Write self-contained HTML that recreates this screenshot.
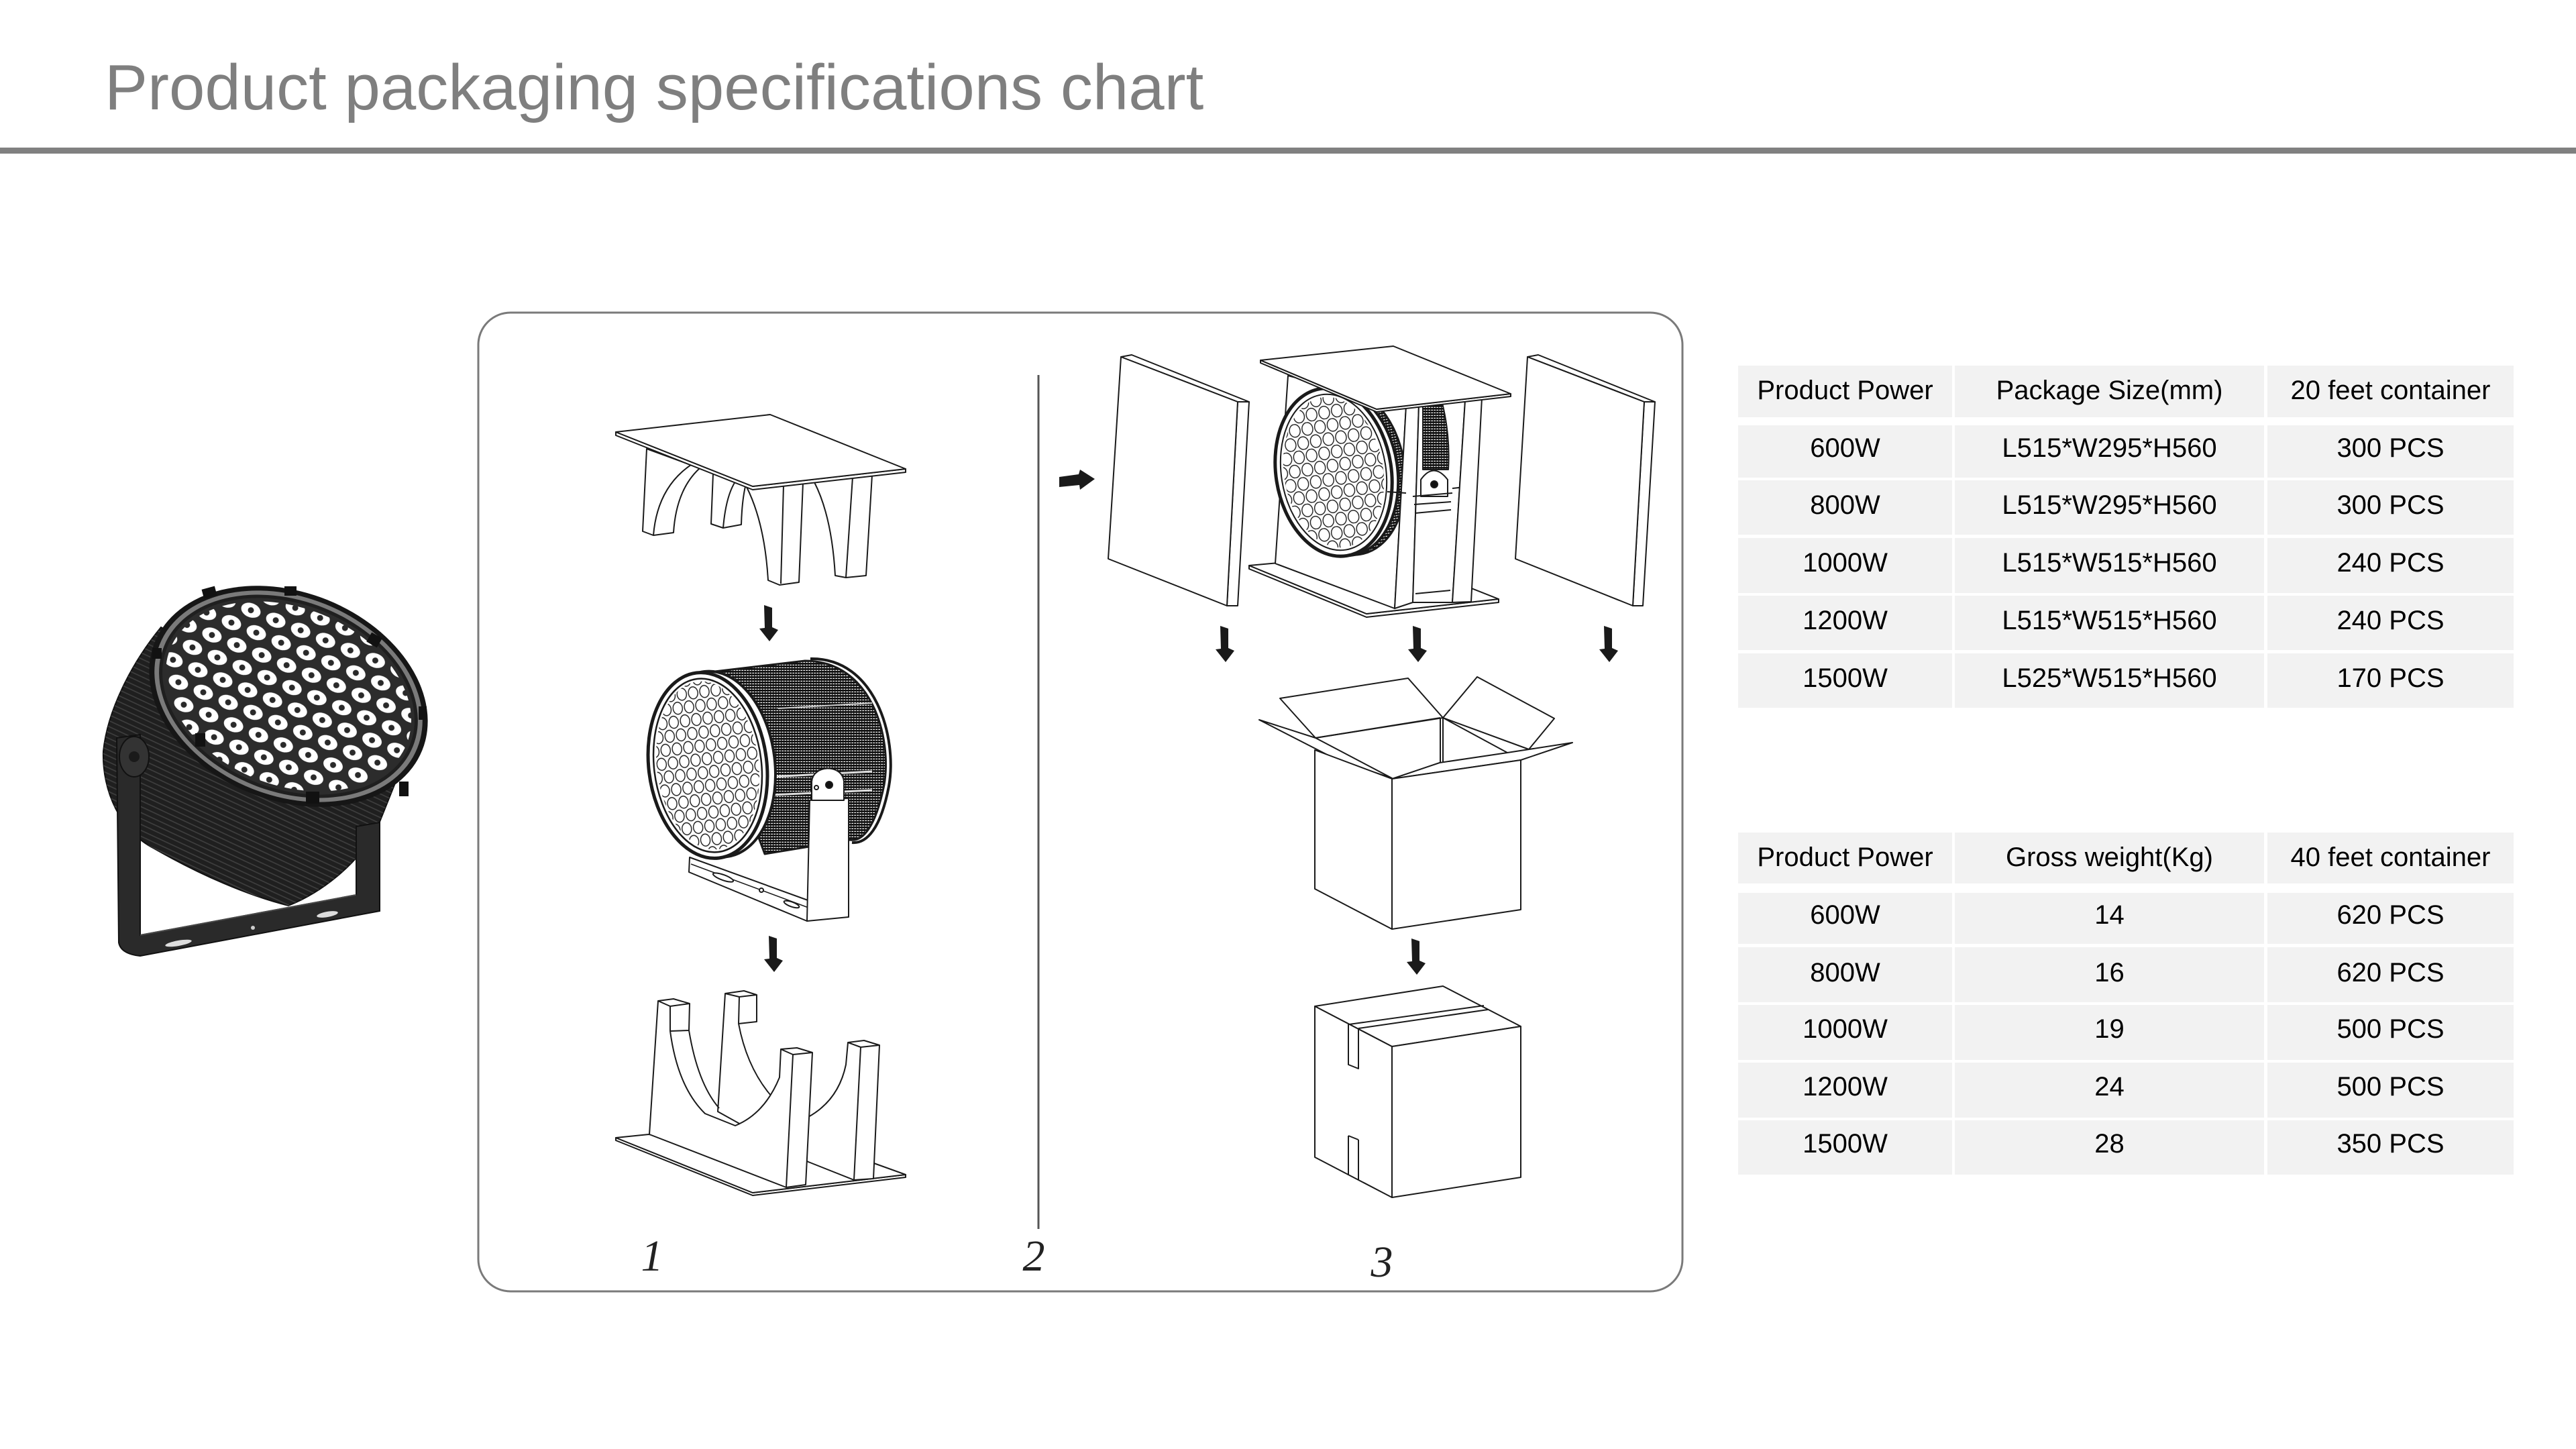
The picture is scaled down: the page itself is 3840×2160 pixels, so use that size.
<!DOCTYPE html>
<html><head><meta charset="utf-8"><title>Product packaging specifications chart</title>
<style>html,body{margin:0;padding:0;background:#fff;overflow:hidden;width:3840px;height:2160px}svg{position:absolute;left:0;top:0}</style>
</head><body>
<svg width="3840" height="2160" viewBox="0 0 3840 2160" xmlns="http://www.w3.org/2000/svg">
<defs>
<pattern id="ledW" patternUnits="userSpaceOnUse" width="40" height="56">
<ellipse cx="20" cy="14" rx="15" ry="10.5" fill="#fff"/><circle cx="20" cy="14" r="4.5" fill="#2a2a2a"/>
<ellipse cx="0" cy="42" rx="15" ry="10.5" fill="#fff"/><circle cx="0" cy="42" r="4.5" fill="#2a2a2a"/>
<ellipse cx="40" cy="42" rx="15" ry="10.5" fill="#fff"/><circle cx="40" cy="42" r="4.5" fill="#2a2a2a"/>
</pattern>
<pattern id="ledO1" patternUnits="userSpaceOnUse" width="17" height="40">
<g fill="none" stroke="#1a1a1a" stroke-width="1.4"><ellipse cx="8.5" cy="10" rx="7" ry="9"/><ellipse cx="0" cy="30" rx="7" ry="9"/><ellipse cx="17" cy="30" rx="7" ry="9"/></g>
</pattern>
<pattern id="ledO2" patternUnits="userSpaceOnUse" width="19" height="40">
<g fill="none" stroke="#1a1a1a" stroke-width="1.4"><ellipse cx="9.5" cy="10" rx="8" ry="9.5"/><ellipse cx="0" cy="30" rx="8" ry="9.5"/><ellipse cx="19" cy="30" rx="8" ry="9.5"/></g>
</pattern>
<pattern id="fins" patternUnits="userSpaceOnUse" width="4" height="4">
<rect width="4" height="4" fill="#fff"/><rect width="4" height="2.8" fill="#111"/><rect width="1.3" height="4" fill="#111"/>
</pattern>
<pattern id="pfin" patternUnits="userSpaceOnUse" width="8" height="8" patternTransform="rotate(25)">
<line x1="0" y1="1" x2="8" y2="1" stroke="#414141" stroke-width="1.5"/>
</pattern>
<polygon id="da" points="7,0 19,4 19,33 28,37 15,54 0,35 8,34" fill="#1a1a1a"/>
</defs>

<rect width="3840" height="2160" fill="#fff"/>
<text x="156" y="163" font-family="Liberation Sans, Arial, sans-serif" font-size="96" fill="#7f7f7f">Product packaging specifications chart</text>
<rect x="0" y="220" width="3840" height="9" fill="#808080"/>

<!-- Table 1 -->
<g fill="#f2f2f2">
<rect x="2591" y="545" width="319" height="77"/><rect x="2914" y="545" width="461" height="77"/><rect x="3380" y="545" width="367" height="77"/>
<rect x="2591" y="634" width="319" height="78"/><rect x="2914" y="634" width="461" height="78"/><rect x="3380" y="634" width="367" height="78"/>
<rect x="2591" y="716" width="319" height="81"/><rect x="2914" y="716" width="461" height="81"/><rect x="3380" y="716" width="367" height="81"/>
<rect x="2591" y="802" width="319" height="82"/><rect x="2914" y="802" width="461" height="82"/><rect x="3380" y="802" width="367" height="82"/>
<rect x="2591" y="888" width="319" height="81"/><rect x="2914" y="888" width="461" height="81"/><rect x="3380" y="888" width="367" height="81"/>
<rect x="2591" y="974" width="319" height="81"/><rect x="2914" y="974" width="461" height="81"/><rect x="3380" y="974" width="367" height="81"/>
</g>
<g font-family="Liberation Sans, Arial, sans-serif" font-size="40" fill="#000" text-anchor="middle">
<text x="2750.5" y="595">Product Power</text><text x="3144.5" y="595">Package Size(mm)</text><text x="3563.5" y="595">20 feet container</text>
<text x="2750.5" y="681">600W</text><text x="3144.5" y="681">L515*W295*H560</text><text x="3563.5" y="681">300 PCS</text>
<text x="2750.5" y="766">800W</text><text x="3144.5" y="766">L515*W295*H560</text><text x="3563.5" y="766">300 PCS</text>
<text x="2750.5" y="852">1000W</text><text x="3144.5" y="852">L515*W515*H560</text><text x="3563.5" y="852">240 PCS</text>
<text x="2750.5" y="938">1200W</text><text x="3144.5" y="938">L515*W515*H560</text><text x="3563.5" y="938">240 PCS</text>
<text x="2750.5" y="1024">1500W</text><text x="3144.5" y="1024">L525*W515*H560</text><text x="3563.5" y="1024">170 PCS</text>
</g>

<!-- Table 2 -->
<g fill="#f2f2f2">
<rect x="2591" y="1241" width="319" height="76"/><rect x="2914" y="1241" width="461" height="76"/><rect x="3380" y="1241" width="367" height="76"/>
<rect x="2591" y="1331" width="319" height="76"/><rect x="2914" y="1331" width="461" height="76"/><rect x="3380" y="1331" width="367" height="76"/>
<rect x="2591" y="1412" width="319" height="82"/><rect x="2914" y="1412" width="461" height="82"/><rect x="3380" y="1412" width="367" height="82"/>
<rect x="2591" y="1498" width="319" height="82"/><rect x="2914" y="1498" width="461" height="82"/><rect x="3380" y="1498" width="367" height="82"/>
<rect x="2591" y="1584" width="319" height="82"/><rect x="2914" y="1584" width="461" height="82"/><rect x="3380" y="1584" width="367" height="82"/>
<rect x="2591" y="1670" width="319" height="81"/><rect x="2914" y="1670" width="461" height="81"/><rect x="3380" y="1670" width="367" height="81"/>
</g>
<g font-family="Liberation Sans, Arial, sans-serif" font-size="40" fill="#000" text-anchor="middle">
<text x="2750.5" y="1291">Product Power</text><text x="3144.5" y="1291">Gross weight(Kg)</text><text x="3563.5" y="1291">40 feet container</text>
<text x="2750.5" y="1377">600W</text><text x="3144.5" y="1377">14</text><text x="3563.5" y="1377">620 PCS</text>
<text x="2750.5" y="1463">800W</text><text x="3144.5" y="1463">16</text><text x="3563.5" y="1463">620 PCS</text>
<text x="2750.5" y="1547">1000W</text><text x="3144.5" y="1547">19</text><text x="3563.5" y="1547">500 PCS</text>
<text x="2750.5" y="1633">1200W</text><text x="3144.5" y="1633">24</text><text x="3563.5" y="1633">500 PCS</text>
<text x="2750.5" y="1718">1500W</text><text x="3144.5" y="1718">28</text><text x="3563.5" y="1718">350 PCS</text>
</g>

<!-- Product lamp (left) -->
<g>
<path d="M240,935 C195,990 160,1060 154,1120 C152,1180 180,1240 230,1265 C300,1305 370,1335 430,1350 C480,1330 530,1290 560,1240 L600,1140 Z" fill="#1f1f1f" stroke="#111" stroke-width="2"/>
<path d="M240,935 C195,990 160,1060 154,1120 C152,1180 180,1240 230,1265 C300,1305 370,1335 430,1350 C480,1330 530,1290 560,1240 L600,1140 Z" fill="url(#pfin)"/>
<path d="M174,1100 L209,1095 L209,1394 L531,1334 L531,1232 L566,1226 L566,1358 L209,1425 Q180,1422 177,1405 Z" fill="#2a2a2a" stroke="#111" stroke-width="2"/>
<path d="M209,1394 L531,1334" stroke="#4a4a4a" stroke-width="2" fill="none"/>
<ellipse cx="200" cy="1128" rx="22" ry="30" fill="#333" stroke="#111" stroke-width="2"/>
<circle cx="200" cy="1128" r="8" fill="#1a1a1a"/>
<ellipse cx="266" cy="1406" rx="20" ry="4" fill="#ddd" transform="rotate(-10 266 1406)"/>
<ellipse cx="488" cy="1363" rx="16" ry="4" fill="#ddd" transform="rotate(-10 488 1363)"/>
<circle cx="377" cy="1383" r="3" fill="#ccc"/>
<g transform="translate(430,1038) rotate(22)">
<ellipse rx="215" ry="155" fill="#161616"/>
<ellipse rx="207" ry="148" fill="#7a7a7a"/>
<ellipse rx="200" ry="142" fill="#1f1f1f"/>
<ellipse rx="195" ry="137" fill="#2c2c2c"/>
<ellipse rx="190" ry="132" fill="url(#ledW)"/>
</g>
<g fill="#111">
<rect x="302" y="876" width="20" height="14" transform="rotate(-15 312 883)"/>
<rect x="424" y="874" width="18" height="14"/>
<rect x="549" y="946" width="18" height="16" transform="rotate(30 558 954)"/>
<rect x="624" y="1053" width="12" height="20"/>
<rect x="595" y="1165" width="14" height="22"/>
<rect x="456" y="1180" width="20" height="18"/>
<rect x="291" y="1093" width="15" height="20"/>
<rect x="227" y="966" width="14" height="16"/>
</g>
</g>

<!-- Frame -->
<rect x="713" y="466" width="1795" height="1459" rx="48" fill="none" stroke="#7a7a7a" stroke-width="3"/>
<line x1="1548" y1="559" x2="1548" y2="1832" stroke="#555" stroke-width="3"/>

<g fill="#fff" stroke="#1a1a1a" stroke-width="2" stroke-linejoin="round">
<!-- Panel 1: top foam piece -->
<path d="M964,669 L958,792 L974,798 L1004,794 Q1008,730 1043,698 L964,669 Z"/>
<path d="M974,798 Q980,725 1033,691" fill="none"/>
<path d="M1063,706 L1060,781 L1078,787 L1105,782 Q1106,745 1112,721 Z"/>
<path d="M1078,787 Q1082,740 1096,718" fill="none"/>
<path d="M1113,726 Q1140,780 1145,865 L1162,872 L1191,868 L1197,719 Z"/>
<path d="M1168,723 L1164,870" fill="none"/>
<path d="M1214,719 Q1240,770 1245,858 L1261,861 L1291,858 L1300,708 Z"/>
<path d="M1271,711 L1261,861" fill="none"/>
<path d="M918,644 L918,649 L1122,730 L1350,704 L1350,699 L1122,725 Z"/>
<polygon points="918,644 1148,618 1350,699 1122,725"/>

<!-- Panel 1: lamp -->
<path d="M1040,1004 L1200,985 C1300,985 1330,1100 1318,1170 C1305,1235 1285,1255 1267,1252 L1140,1273 Z" fill="url(#fins)" stroke-width="3"/>
<path d="M1208,982 C1305,980 1338,1100 1325,1172 C1313,1235 1292,1258 1270,1256" fill="none" stroke-width="4"/>
<path d="M1150,1158 L1300,1150 M1150,1185 L1300,1178" stroke="#ddd" stroke-width="3" fill="none"/>
<path d="M1160,1056 L1300,1048" stroke="#ccc" stroke-width="2" fill="none"/>
<ellipse cx="1067" cy="1139" rx="88" ry="139" transform="rotate(-7 1067 1139)" stroke-width="4"/>
<g transform="translate(1055,1141) rotate(-7)">
<ellipse rx="88" ry="139" stroke-width="5"/>
<ellipse rx="80" ry="130" fill="none" stroke-width="2.5"/>
<ellipse rx="76" ry="126" fill="url(#ledO1)" stroke="none"/>
</g>
<path d="M1028,1278 L1207,1343 L1203,1373 L1027,1300 Z"/>
<path d="M1030,1288 L1205,1353" fill="none" stroke-width="1.5"/>
<ellipse cx="1078" cy="1308" rx="16" ry="4" transform="rotate(20 1078 1308)"/>
<ellipse cx="1180" cy="1348" rx="12" ry="3.5" transform="rotate(20 1180 1348)"/>
<circle cx="1135" cy="1327" r="3"/>
<polygon points="1207,1193 1265,1190 1265,1367 1203,1373"/>
<path d="M1210,1193 L1210,1165 C1212,1140 1255,1138 1258,1165 L1258,1193 Z"/>
<circle cx="1236" cy="1170" r="5" fill="#111"/>
<circle cx="1217" cy="1174" r="3"/>

<!-- Panel 1: base piece -->
<path d="M918,1696 L918,1700 L1122,1782 L1350,1755 L1350,1751 L1122,1778 Z"/>
<polygon points="918,1696 967,1691 1300,1733 1350,1751 1122,1778"/>
<path d="M1070,1657 L1081,1481 L1109,1477 L1128,1483 L1128,1523 L1101,1526 Q1115,1600 1160,1645 L1205,1665 Q1250,1640 1261,1587 L1264,1554 L1288,1551 L1311,1558 L1302,1757 L1273,1759 L1205,1732 Z"/>
<path d="M1081,1481 L1102,1486 L1128,1483 M1102,1486 L1101,1526 M1264,1554 L1283,1561 L1311,1558 M1283,1561 L1273,1759" fill="none"/>
<path d="M968,1691 L981,1492 L1004,1489 L1028,1496 L1027,1536 L999,1537 Q1010,1620 1051,1660 L1096,1678 Q1140,1660 1162,1606 L1164,1564 L1188,1562 L1211,1569 L1201,1766 L1172,1770 Z"/>
<path d="M981,1492 L999,1500 L1028,1496 M999,1500 L999,1537 M1027,1536 Q1040,1615 1072,1652 M1164,1564 L1182,1572 L1211,1569 M1182,1572 L1172,1770" fill="none"/>

<!-- Panel 2/3: side foam slabs -->
<polygon points="1671,532 1687,529 1862,599 1845,599"/>
<polygon points="1845,599 1862,599 1845,903 1829,903"/>
<polygon points="1671,532 1845,599 1829,903 1652,833"/>
<polygon points="2277,532 2293,529 2467,599 2451,599"/>
<polygon points="2451,599 2467,599 2449,903 2434,903"/>
<polygon points="2277,532 2451,599 2434,903 2259,833"/>

<!-- Panel 2/3: center assembly -->
<path d="M1862,843 L1862,848 L2037,920 L2234,898 L2234,893 L2037,915 Z"/>
<polygon points="1862,843 2062,825 2234,893 2037,915"/>
<polygon points="1920,560 2096,605 2079,907 1901,840"/>
<ellipse cx="2008" cy="702" rx="86" ry="126" transform="rotate(-9 2008 702)" fill="url(#fins)" stroke-width="3"/>
<ellipse cx="1997" cy="703" rx="86" ry="126" transform="rotate(-9 1997 703)" stroke-width="4"/>
<g transform="translate(1988,704) rotate(-9)">
<ellipse rx="86" ry="126" stroke-width="5"/>
<ellipse rx="78" ry="117" fill="none" stroke-width="2"/>
<ellipse rx="74" ry="113" fill="url(#ledO2)" stroke="none"/>
</g>
<polygon points="2096,605 2115,603 2106,898 2079,907"/>
<polygon points="2115,603 2184,597 2165,898 2106,898"/>
<path d="M2121,604 L2150,601 Q2162,650 2159,700 L2121,700 Z" fill="url(#fins)"/>
<path d="M2118,740 L2118,715 Q2137,688 2158,715 L2158,740 Z"/>
<circle cx="2138" cy="722" r="5" fill="#111"/>
<path d="M2106,740 L2165,735 M2108,752 L2163,748 M2109,765 L2163,760 M2110,885 L2162,880 M2068,733 L2096,735 M2165,728 L2202,724" fill="none"/>
<polygon points="2184,597 2209,593 2193,897 2165,898"/>
<path d="M1879,537 L1879,541 L2052,614 L2252,591 L2252,587 L2052,610 Z"/>
<polygon points="1879,537 2077,516 2252,587 2052,610"/>

<!-- Panel 3: open box -->
<polygon points="1908,1041 2099,1011 2151,1070 1961,1100"/>
<polygon points="2151,1070 2202,1009 2317,1071 2279,1117"/>
<path d="M1961,1100 L2147,1070 M2147,1070 L2147,1137 M2151,1070 L2151,1137 M2151,1070 L2247,1122" fill="none"/>
<polygon points="1877,1073 1961,1100 2075,1160 1994,1133"/>
<polygon points="2075,1161 2146,1137 2247,1122 2344,1107 2267,1133"/>
<polygon points="1960,1118 2075,1161 2075,1385 1960,1325"/>
<polygon points="2075,1161 2267,1133 2267,1356 2075,1385"/>

<!-- Panel 3: closed box -->
<polygon points="1960,1500 2151,1470 2267,1530 2075,1560"/>
<polygon points="1960,1500 2075,1560 2075,1785 1960,1725"/>
<polygon points="2075,1560 2267,1530 2267,1755 2075,1785"/>
<path d="M2011,1527 L2212,1499 M2025,1533 L2218,1505" fill="none"/>
<path d="M2010,1527 L2010,1587 L2025,1593 L2025,1533 M2010,1693 L2010,1752 M2025,1699 L2025,1759 M2010,1693 L2025,1699" fill="none"/>
</g>

<!-- Arrows -->
<use href="#da" x="1132" y="902"/>
<use href="#da" x="1139" y="1395"/>
<use href="#da" x="1812" y="933"/>
<use href="#da" x="2099" y="933"/>
<use href="#da" x="2384" y="933"/>
<use href="#da" x="2097" y="1399"/>
<polygon points="1579,711 1608,707 1610,700 1632,714 1610,730 1609,723 1579,726" fill="#1a1a1a"/>

<!-- Step labels -->
<g font-family="Liberation Serif, serif" font-style="italic" font-size="66" fill="#222" text-anchor="middle">
<text x="972" y="1894">1</text>
<text x="1541" y="1894">2</text>
<text x="2060" y="1903">3</text>
</g>
</svg>
</body></html>
